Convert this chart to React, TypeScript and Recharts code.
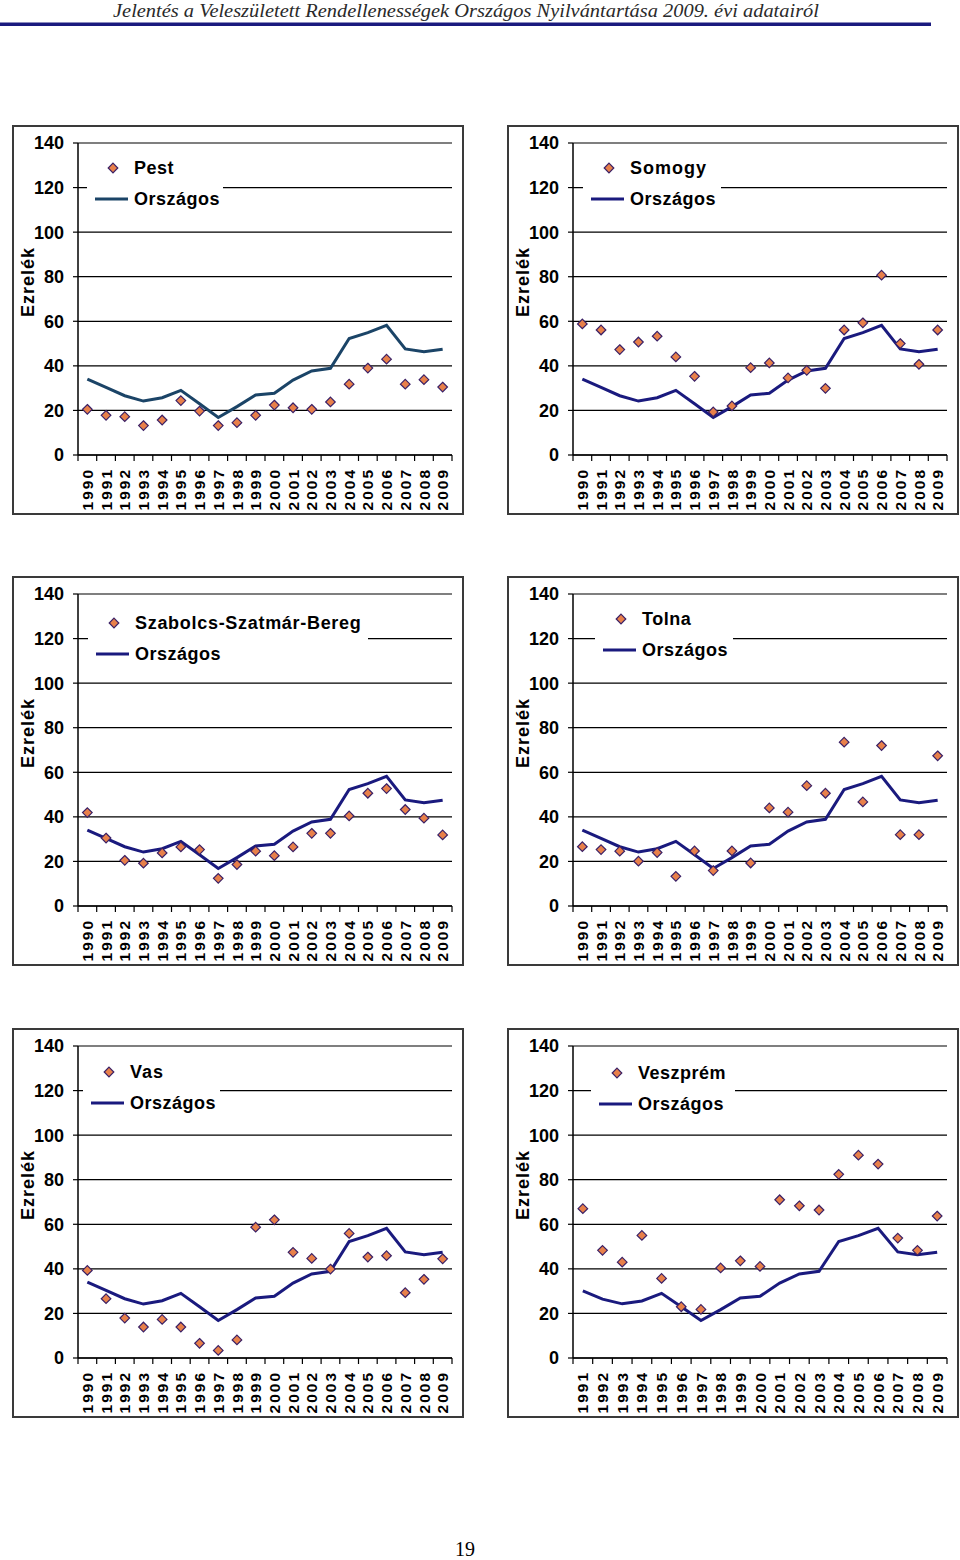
import React from 'react';
import { ComposedChart, Line, XAxis, YAxis, CartesianGrid, Legend, Label } from 'recharts';

// ---------- data ----------
const years = ['1990', '1991', '1992', '1993', '1994', '1995', '1996', '1997', '1998', '1999', '2000', '2001', '2002', '2003', '2004', '2005', '2006', '2007', '2008', '2009'];
const yearsVeszprem = ['1991', '1992', '1993', '1994', '1995', '1996', '1997', '1998', '1999', '2000', '2001', '2002', '2003', '2004', '2005', '2006', '2007', '2008', '2009'];
const orszagos = [34, 30.3, 26.6, 24.2, 25.7, 29, 23, 16.8, 21.7, 26.9, 27.7, 33.6, 37.7, 38.9, 52.3, 54.9, 58.2, 47.6, 46.3, 47.5];
const orszagosVeszprem = [30.1, 26.4, 24.3, 25.6, 29, 23, 16.8, 21.7, 26.9, 27.7, 33.6, 37.7, 38.9, 52.3, 54.9, 58.2, 47.6, 46.3, 47.5];
const pest = [20.5, 17.8, 17.2, 13.2, 15.7, 24.4, 19.7, 13.2, 14.5, 17.8, 22.4, 21.2, 20.5, 23.8, 31.8, 39, 43, 31.8, 33.8, 30.5];
const somogy = [58.8, 56.1, 47.3, 50.7, 53.3, 44, 35.3, 19.3, 22, 39.2, 41.3, 34.6, 38, 29.9, 56.1, 59.3, 80.7, 50, 40.7, 56.1];
const szabolcs = [41.9, 30.5, 20.5, 19.2, 23.8, 26.5, 25.3, 12.4, 18.6, 24.6, 22.6, 26.5, 32.6, 32.6, 40.4, 50.6, 52.7, 43.3, 39.4, 31.9];
const tolna = [26.6, 25.3, 24.6, 20.1, 24, 13.3, 24.7, 15.9, 24.7, 19.3, 44, 42.1, 54, 50.6, 73.5, 46.7, 72, 32, 32, 67.4];
const vas = [39.3, 26.6, 17.9, 13.9, 17.3, 13.9, 6.6, 3.4, 8.1, 58.7, 62, 47.4, 44.7, 39.9, 55.9, 45.3, 45.9, 29.3, 35.3, 44.5];
const veszprem = [67, 48.3, 43, 55, 35.7, 23, 21.8, 40.4, 43.6, 41.1, 71, 68.3, 66.4, 82.4, 91, 87, 53.8, 48.3, 63.7];
const yTicks = [0, 20, 40, 60, 80, 100, 120, 140];

const titleText = 'Jelentés a Veleszületett Rendellenességek Országos Nyilvántartása 2009. évi adatairól';
const nationalName = 'Országos';
const axisTitle = 'Ezrelék';
const pageNumber = '19';

// ---------- style ----------
const FONT = '"Liberation Sans", Arial, sans-serif';
const MARKER_FILL = '#E8804A';
const MARKER_STROKE = '#3A2066';
const NAVY = '#1A1A7E';
const PEST_LINE = '#1B4467';

const CHART_W = 448;
const CHART_H = 386;
const MARGIN = { top: 16, right: 10, bottom: 0, left: 8 };
const Y_W = 56;
const X_H = 58;
const PLOT_W = CHART_W - MARGIN.left - Y_W - MARGIN.right;

function Diamond(props: any) {
  const { cx, cy } = props;
  if (cx == null || cy == null || isNaN(cx) || isNaN(cy)) return null;
  const r = 4.8;
  return (
    <path
      d={`M${cx},${cy - r}L${cx + r},${cy}L${cx},${cy + r}L${cx - r},${cy}Z`}
      fill={MARKER_FILL}
      stroke={MARKER_STROKE}
      strokeWidth={1.2}
    />
  );
}

const makeXTick = (step: number, count: number) => (props: any) => {
  const { x, y, payload, index } = props;
  return (
    <g>
      <line x1={x - step / 2} x2={x - step / 2} y1={y} y2={y + 6} stroke="#000" strokeWidth={1.2} />
      {index === count - 1 && (
        <line x1={x + step / 2} x2={x + step / 2} y1={y} y2={y + 6} stroke="#000" strokeWidth={1.2} />
      )}
      <text
        transform={`translate(${x},${y + 13}) rotate(-90)`}
        textAnchor="end"
        dy="0.36em"
        fontSize={15.5}
        fontWeight={700}
        letterSpacing={2}
        fill="#000"
        fontFamily={FONT}
      >
        {payload.value}
      </text>
    </g>
  );
};

const renderEzrelek = (props: any) => {
  const vb = props.viewBox || {};
  const cx = vb.x + vb.width - 50;
  const cy = vb.y + vb.height / 2 - 17;
  return (
    <text
      transform={`translate(${cx},${cy}) rotate(-90)`}
      textAnchor="middle"
      dy="0.36em"
      fontSize={18}
      fontWeight={700}
      letterSpacing={1}
      fill="#000"
      fontFamily={FONT}
    >
      {axisTitle}
    </text>
  );
};

type PanelProps = {
  left: number;
  top: number;
  name: string;
  cats: string[];
  values: number[];
  national: number[];
  lineColor: string;
  lgX: number;
  lgY: number;
  lgW: number;
  nameSpacing?: number;
};

function Panel({ left, top, name, cats, values, national, lineColor, lgX, lgY, lgW, nameSpacing = 0.5 }: PanelProps) {
  const data = cats.map((c, i) => ({ year: c, county: values[i], orszagos: national[i] }));
  const step = PLOT_W / cats.length;
  const boxLeft = lgX - 26;
  const boxTop = 22;
  const boxH = 74;
  const row1 = lgY - boxTop;
  const row2 = row1 + 31;
  const legendContent = () => (
    <svg width={lgW} height={boxH} style={{ display: 'block' }}>
      <rect x={0} y={0} width={lgW} height={boxH} fill="#fff" />
      <Diamond cx={26} cy={row1} />
      <line x1={8} x2={41} y1={row2} y2={row2} stroke={lineColor} strokeWidth={3} />
      <text x={47} y={row1} dy="0.36em" fontSize={18} fontWeight={700} letterSpacing={nameSpacing} fill="#000" fontFamily={FONT}>
        {name}
      </text>
      <text x={47} y={row2} dy="0.36em" fontSize={18} fontWeight={700} letterSpacing={0.5} fill="#000" fontFamily={FONT}>
        {nationalName}
      </text>
    </svg>
  );
  return (
    <div
      style={{
        position: 'absolute',
        left,
        top,
        width: CHART_W,
        height: CHART_H,
        border: '2px solid #3a3a3a',
        background: '#fff',
      }}
    >
      <ComposedChart width={CHART_W} height={CHART_H} data={data} margin={MARGIN}>
        <CartesianGrid horizontal vertical={false} stroke="#000" strokeWidth={1.2} />
        <XAxis
          dataKey="year"
          type="category"
          scale="point"
          padding={{ left: step / 2, right: step / 2 }}
          height={X_H}
          interval={0}
          tickSize={0}
          tickMargin={0}
          tickLine={false}
          axisLine={{ stroke: '#000', strokeWidth: 1.5 }}
          tick={makeXTick(step, cats.length)}
        />
        <YAxis
          type="number"
          domain={[0, 140]}
          ticks={yTicks}
          width={Y_W}
          interval={0}
          tickSize={5}
          tickMargin={9}
          axisLine={{ stroke: '#000', strokeWidth: 1.5 }}
          tickLine={{ stroke: '#000', strokeWidth: 1.2 }}
          tick={{ fontSize: 18, fontWeight: 700, fill: '#000', fontFamily: FONT }}
        >
          <Label content={renderEzrelek} />
        </YAxis>
        <Line
          dataKey="orszagos"
          stroke={lineColor}
          strokeWidth={3}
          dot={false}
          activeDot={false}
          isAnimationActive={false}
          type="linear"
        />
        <Line
          dataKey="county"
          stroke="none"
          strokeWidth={0}
          dot={(p: any) => <Diamond key={`d-${p.index}`} cx={p.cx} cy={p.cy} />}
          activeDot={false}
          isAnimationActive={false}
          type="linear"
        />
        <Legend
          layout="vertical"
          align="center"
          verticalAlign="middle"
          wrapperStyle={{ left: boxLeft, top: boxTop, width: lgW, height: boxH, background: '#fff' }}
          content={legendContent}
        />
      </ComposedChart>
    </div>
  );
}

export default function App() {
  return (
    <div style={{ position: 'absolute', left: 0, top: 0, width: 960, height: 1560, background: '#fff' }}>
      <svg width={960} height={32} style={{ position: 'absolute', left: 0, top: 0 }}>
        <text
          x={466}
          y={17}
          textAnchor="middle"
          fontFamily='"Liberation Serif", "Times New Roman", serif'
          fontStyle="italic"
          fontSize={19}
          fill="#2a2a2a"
          textLength={706}
          lengthAdjust="spacingAndGlyphs"
        >
          {titleText}
        </text>
        <rect x={0} y={22.5} width={931} height={3.5} fill={NAVY} />
      </svg>

      <Panel left={12} top={125} name="Pest" cats={years} values={pest} national={orszagos} lineColor={PEST_LINE} lgX={99} lgY={41} lgW={136} />
      <Panel left={507} top={125} name="Somogy" cats={years} values={somogy} national={orszagos} lineColor={NAVY} lgX={100} lgY={41} lgW={138} nameSpacing={1} />
      <Panel left={12} top={576} name="Szabolcs-Szatmár-Bereg" cats={years} values={szabolcs} national={orszagos} lineColor={NAVY} lgX={100} lgY={45} lgW={280} nameSpacing={0.7} />
      <Panel left={507} top={576} name="Tolna" cats={years} values={tolna} national={orszagos} lineColor={NAVY} lgX={112} lgY={41} lgW={138} />
      <Panel left={12} top={1028} name="Vas" cats={years} values={vas} national={orszagos} lineColor={NAVY} lgX={95} lgY={42} lgW={137} nameSpacing={1} />
      <Panel left={507} top={1028} name="Veszprém" cats={yearsVeszprem} values={veszprem} national={orszagosVeszprem} lineColor={NAVY} lgX={108} lgY={43} lgW={144} />

      <div
        style={{
          position: 'absolute',
          left: 0,
          top: 1538,
          width: 930,
          textAlign: 'center',
          fontFamily: '"Liberation Serif", "Times New Roman", serif',
          fontSize: 20,
          color: '#000',
        }}
      >
        {pageNumber}
      </div>
    </div>
  );
}
